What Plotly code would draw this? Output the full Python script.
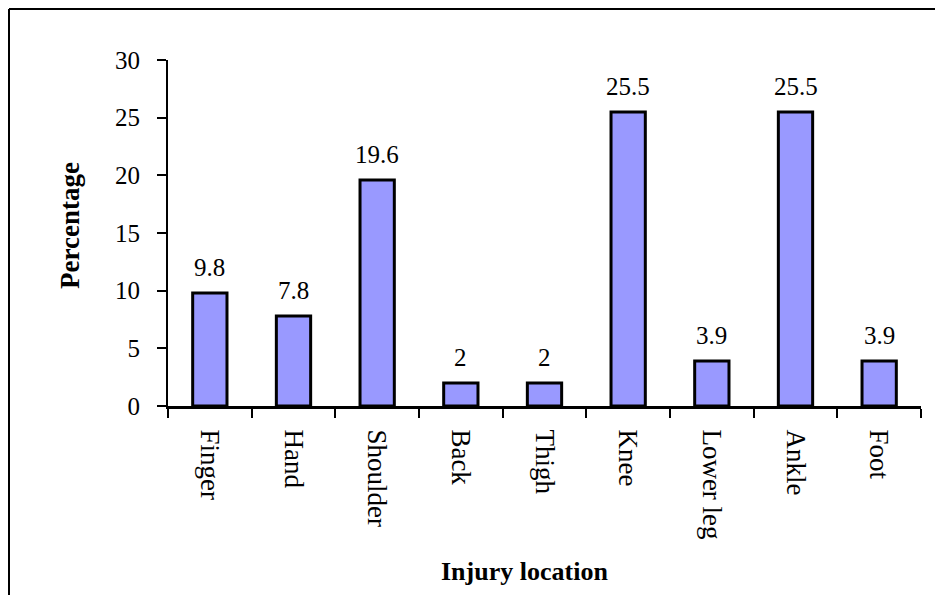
import plotly.graph_objects as go

categories = ["Finger", "Hand", "Shoulder", "Back", "Thigh", "Knee", "Lower leg", "Ankle", "Foot"]
values = [9.8, 7.8, 19.6, 2, 2, 25.5, 3.9, 25.5, 3.9]
value_labels = ["9.8", "7.8", "19.6", "2", "2", "25.5", "3.9", "25.5", "3.9"]
y_ticks = [0, 5, 10, 15, 20, 25, 30]

OFF = 8  # browser body margin
W, H = 943 - OFF, 595 - OFF
L, T = 168 - OFF, 60 - OFF
R = W - (921 - OFF)
B = H - (406 - OFF)
pw, ph = W - L - R, H - T - B

def px_x(x):
    return (x - OFF - L) / pw

def px_y(y):
    return (H - B - (y - OFF)) / ph

font = "Liberation Serif"

fig = go.Figure()
fig.add_trace(go.Bar(
    x=categories, y=values,
    marker=dict(color="#9999FF", line=dict(color="black", width=3)),
    width=0.41,
))

for c, v, t in zip(categories, values, value_labels):
    fig.add_annotation(x=c, y=v, text=t, showarrow=False, yanchor="bottom",
                       yshift=10, font=dict(family=font, size=25, color="black"))

fig.add_annotation(xref="paper", yref="paper", x=px_x(70), y=px_y(226), text="<b>Percentage</b>",
                   xanchor="center", yanchor="middle",
                   textangle=-90, showarrow=False, font=dict(family=font, size=27, color="black"))
fig.add_annotation(xref="paper", yref="paper", x=px_x(524), y=px_y(571), text="<b>Injury location</b>",
                   xanchor="center", yanchor="middle",
                   showarrow=False, font=dict(family=font, size=26, color="black"))

# outer frame
fig.add_shape(type="line", xref="paper", yref="paper", x0=px_x(9), x1=px_x(9), y0=px_y(9), y1=px_y(610),
              line=dict(color="black", width=2))
fig.add_shape(type="line", xref="paper", yref="paper", x0=px_x(9), x1=px_x(960), y0=px_y(9), y1=px_y(9),
              line=dict(color="black", width=2))

fig.update_layout(
    width=W, height=H,
    margin=dict(l=L, r=R, t=T, b=B),
    paper_bgcolor="white", plot_bgcolor="white",
    showlegend=False,
    xaxis=dict(showline=True, linecolor="black", linewidth=3, ticks="outside", ticklen=9,
               tickcolor="black", tickwidth=1.5, tickson="boundaries", tickangle=90,
               tickfont=dict(family=font, size=27, color="black"), showgrid=False,
               ticklabelstandoff=15),
    yaxis=dict(range=[0, 30], tickvals=y_ticks, showline=True, linecolor="black", linewidth=2,
               ticks="outside", ticklen=9, tickcolor="black", tickwidth=1.5, showgrid=False,
               zeroline=False, tickfont=dict(family=font, size=25, color="black"),
               ticklabelstandoff=12),
)

fig.write_html("out.html")
